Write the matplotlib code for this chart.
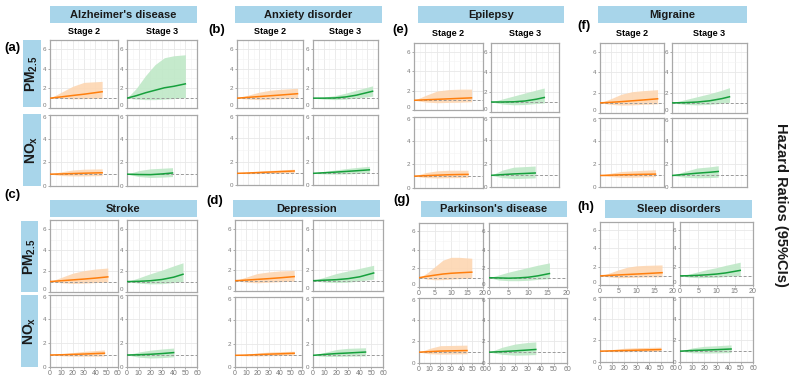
import matplotlib
matplotlib.use("Agg")
import matplotlib.pyplot as plt
from matplotlib.patches import Rectangle

plt.rcParams['font.family'] = ['Liberation Sans', 'DejaVu Sans']
plt.rcParams['mathtext.fontset'] = 'custom'
plt.rcParams['mathtext.bf'] = 'Liberation Sans:bold'
plt.rcParams['mathtext.rm'] = 'Liberation Sans'

W, H = 793, 378

# ---------------- data ----------------
diseases = ["Alzheimer's disease", "Anxiety disorder", "Stroke", "Depression",
            "Epilepsy", "Migraine", "Parkinson's disease", "Sleep disorders"]
panel_tags = ["(a)", "(b)", "(c)", "(d)", "(e)", "(f)", "(g)", "(h)"]
stage_labels = ["Stage 2", "Stage 3"]
pollutant_labels = [r"$\mathbf{PM_{2.5}}$", r"$\mathbf{NO_x}$"]
y_ticks = [0, 2, 4, 6]
x_ticks_long = [0, 10, 20, 30, 40, 50, 60]
x_ticks_short = [0, 5, 10, 15, 20]
right_label = "Hazard Ratios (95%CIs)"

# Alzheimer's disease
alz_pm_s2 = dict(x=[0, 10, 20, 30, 46], hr=[1, 1.13, 1.27, 1.4, 1.65], lo=[1, 0.97, 0.93, 0.95, 1.0], hi=[1, 1.6, 2.2, 2.6, 2.7])
alz_pm_s3 = dict(x=[0, 8, 16, 24, 32, 40, 50], hr=[1, 1.25, 1.55, 1.8, 2.05, 2.2, 2.45], lo=[1, 0.9, 0.85, 0.85, 0.9, 0.95, 1.05], hi=[1, 2.0, 3.3, 4.4, 5.1, 5.3, 5.4])
alz_no_s2 = dict(x=[0, 10, 20, 30, 46], hr=[1, 1.02, 1.05, 1.08, 1.12], lo=[1, 0.88, 0.85, 0.85, 0.88], hi=[1, 1.2, 1.35, 1.42, 1.45])
alz_no_s3 = dict(x=[0, 10, 20, 30, 39], hr=[1, 0.97, 0.96, 1.02, 1.1], lo=[1, 0.8, 0.72, 0.75, 0.8], hi=[1, 1.3, 1.45, 1.5, 1.55])
# Anxiety disorder
anx_pm_s2 = dict(x=[0, 10, 20, 30, 40, 55], hr=[1, 1.08, 1.16, 1.24, 1.32, 1.45], lo=[1, 0.9, 0.85, 0.88, 0.95, 1.0], hi=[1, 1.3, 1.6, 1.8, 1.9, 2.0])
anx_pm_s3 = dict(x=[0, 10, 20, 30, 40, 55], hr=[1, 1.0, 1.02, 1.12, 1.3, 1.7], lo=[1, 0.9, 0.85, 0.9, 1.0, 1.2], hi=[1, 1.1, 1.25, 1.5, 1.8, 2.25])
anx_no_s2 = dict(x=[0, 10, 20, 30, 40, 52], hr=[1, 1.03, 1.07, 1.11, 1.15, 1.2], lo=[1, 0.97, 0.98, 1.0, 1.02, 1.05], hi=[1, 1.1, 1.18, 1.25, 1.3, 1.35])
anx_no_s3 = dict(x=[0, 10, 20, 30, 40, 52], hr=[1, 1.05, 1.1, 1.16, 1.22, 1.3], lo=[1, 0.95, 0.93, 0.95, 0.98, 1.05], hi=[1, 1.15, 1.28, 1.4, 1.5, 1.6])
# Stroke
stk_pm_s2 = dict(x=[0, 10, 20, 30, 40, 51], hr=[1, 1.08, 1.16, 1.24, 1.33, 1.45], lo=[1, 0.88, 0.82, 0.85, 0.9, 0.95], hi=[1, 1.4, 1.8, 2.05, 2.2, 2.3])
stk_pm_s3 = dict(x=[0, 10, 20, 30, 40, 48], hr=[1, 1.02, 1.08, 1.2, 1.42, 1.7], lo=[1, 0.85, 0.78, 0.8, 0.9, 1.0], hi=[1, 1.35, 1.75, 2.1, 2.5, 2.8])
stk_no_s2 = dict(x=[0, 10, 20, 30, 40, 48], hr=[1, 1.02, 1.05, 1.08, 1.12, 1.15], lo=[1, 0.93, 0.9, 0.9, 0.9, 0.92], hi=[1, 1.1, 1.2, 1.3, 1.37, 1.42])
stk_no_s3 = dict(x=[0, 10, 20, 30, 40], hr=[1, 1.02, 1.06, 1.12, 1.2], lo=[1, 0.82, 0.75, 0.78, 0.85], hi=[1, 1.25, 1.4, 1.5, 1.58])
# Depression
dep_pm_s2 = dict(x=[0, 10, 20, 30, 40, 53], hr=[1, 1.06, 1.13, 1.2, 1.28, 1.4], lo=[1, 0.85, 0.8, 0.85, 0.9, 0.95], hi=[1, 1.35, 1.7, 1.85, 1.95, 2.0])
dep_pm_s3 = dict(x=[0, 10, 20, 30, 40, 52], hr=[1, 1.05, 1.1, 1.2, 1.38, 1.75], lo=[1, 0.85, 0.82, 0.85, 0.98, 1.15], hi=[1, 1.35, 1.7, 1.95, 2.2, 2.5])
dep_no_s2 = dict(x=[0, 10, 20, 30, 40, 53], hr=[1, 1.02, 1.06, 1.1, 1.13, 1.18], lo=[1, 0.95, 0.95, 0.97, 0.98, 1.0], hi=[1, 1.1, 1.2, 1.28, 1.32, 1.35])
dep_no_s3 = dict(x=[0, 10, 20, 30, 45], hr=[1, 1.08, 1.15, 1.2, 1.28], lo=[1, 0.9, 0.9, 0.92, 0.95], hi=[1, 1.25, 1.5, 1.6, 1.65])
# Epilepsy
epi_pm_s2 = dict(x=[0, 10, 20, 30, 40, 50], hr=[1, 1.05, 1.1, 1.15, 1.2, 1.25], lo=[1, 0.82, 0.75, 0.78, 0.8, 0.85], hi=[1, 1.5, 1.95, 2.1, 2.15, 2.15])
epi_pm_s3 = dict(x=[0, 10, 20, 30, 40, 47], hr=[1, 1.0, 1.02, 1.1, 1.28, 1.45], lo=[1, 0.8, 0.72, 0.75, 0.85, 0.9], hi=[1, 1.3, 1.6, 1.9, 2.2, 2.4])
epi_no_s2 = dict(x=[0, 10, 20, 30, 40, 47], hr=[1, 1.04, 1.08, 1.12, 1.14, 1.15], lo=[1, 0.88, 0.85, 0.87, 0.88, 0.9], hi=[1, 1.3, 1.45, 1.5, 1.5, 1.5])
epi_no_s3 = dict(x=[0, 10, 20, 30, 39], hr=[1, 1.06, 1.12, 1.16, 1.2], lo=[1, 0.8, 0.72, 0.75, 0.78], hi=[1, 1.45, 1.7, 1.75, 1.8])
# Migraine
mig_pm_s2 = dict(x=[0, 10, 20, 30, 40, 54], hr=[1, 1.05, 1.12, 1.2, 1.28, 1.4], lo=[1, 0.85, 0.78, 0.8, 0.85, 0.9], hi=[1, 1.4, 1.85, 2.1, 2.2, 2.3])
mig_pm_s3 = dict(x=[0, 10, 20, 30, 40, 46], hr=[1, 1.02, 1.08, 1.2, 1.42, 1.6], lo=[1, 0.85, 0.8, 0.85, 0.95, 1.05], hi=[1, 1.3, 1.6, 1.9, 2.25, 2.5])
mig_no_s2 = dict(x=[0, 10, 20, 30, 40, 52], hr=[1, 1.03, 1.06, 1.08, 1.1, 1.12], lo=[1, 0.9, 0.85, 0.85, 0.88, 0.9], hi=[1, 1.2, 1.35, 1.4, 1.45, 1.5])
mig_no_s3 = dict(x=[0, 10, 20, 30, 37], hr=[1, 1.1, 1.2, 1.28, 1.35], lo=[1, 0.85, 0.8, 0.82, 0.85], hi=[1, 1.35, 1.65, 1.75, 1.85])
# Parkinson's disease
par_pm_s2 = dict(x=[0, 2.5, 5, 7.5, 10, 12.5, 16.5], hr=[1, 1.15, 1.28, 1.4, 1.48, 1.53, 1.6], lo=[1, 0.85, 0.78, 0.8, 0.85, 0.9, 0.95], hi=[1, 1.5, 2.2, 2.9, 3.2, 3.2, 3.1])
par_pm_s3 = dict(x=[0, 2.5, 5, 7.5, 10, 12.5, 15.5], hr=[1, 0.98, 0.95, 0.98, 1.05, 1.2, 1.45], lo=[1, 0.75, 0.68, 0.68, 0.72, 0.82, 0.9], hi=[1, 1.3, 1.6, 1.85, 2.1, 2.35, 2.6])
par_no_s2 = dict(x=[0, 10, 20, 30, 45], hr=[1, 1.05, 1.1, 1.12, 1.15], lo=[1, 0.85, 0.82, 0.83, 0.85], hi=[1, 1.35, 1.6, 1.62, 1.65])
par_no_s3 = dict(x=[0, 10, 20, 30, 36], hr=[1, 1.05, 1.12, 1.2, 1.25], lo=[1, 0.8, 0.72, 0.75, 0.78], hi=[1, 1.45, 1.75, 1.9, 1.95])
# Sleep disorders
slp_pm_s2 = dict(x=[0, 2.5, 5, 7.5, 10, 12.5, 17], hr=[1, 1.05, 1.1, 1.15, 1.2, 1.25, 1.35], lo=[1, 0.88, 0.8, 0.82, 0.85, 0.88, 0.9], hi=[1, 1.3, 1.65, 1.95, 2.1, 2.15, 2.2])
slp_pm_s3 = dict(x=[0, 2.5, 5, 7.5, 10, 12.5, 16.5], hr=[1, 1.02, 1.06, 1.12, 1.2, 1.32, 1.6], lo=[1, 0.85, 0.8, 0.82, 0.85, 0.92, 1.02], hi=[1, 1.2, 1.45, 1.7, 1.9, 2.15, 2.5])
slp_no_s2 = dict(x=[0, 10, 20, 30, 40, 50], hr=[1, 1.03, 1.06, 1.09, 1.12, 1.15], lo=[1, 0.95, 0.95, 0.96, 0.97, 0.98], hi=[1, 1.15, 1.27, 1.32, 1.35, 1.37])
slp_no_s3 = dict(x=[0, 10, 20, 30, 42], hr=[1, 1.06, 1.1, 1.14, 1.2], lo=[1, 0.85, 0.82, 0.84, 0.87], hi=[1, 1.3, 1.45, 1.5, 1.58])

series = [
    [alz_pm_s2, alz_pm_s3, alz_no_s2, alz_no_s3],
    [anx_pm_s2, anx_pm_s3, anx_no_s2, anx_no_s3],
    [stk_pm_s2, stk_pm_s3, stk_no_s2, stk_no_s3],
    [dep_pm_s2, dep_pm_s3, dep_no_s2, dep_no_s3],
    [epi_pm_s2, epi_pm_s3, epi_no_s2, epi_no_s3],
    [mig_pm_s2, mig_pm_s3, mig_no_s2, mig_no_s3],
    [par_pm_s2, par_pm_s3, par_no_s2, par_no_s3],
    [slp_pm_s2, slp_pm_s3, slp_no_s2, slp_no_s3],
]

# ---------------- layout (pixels) ----------------
layout = [
    dict(box=(50, 6, 197, 23), tag=(4, 48), stage_y=32,
         axes=[(50, 40, 118, 108), (127, 40, 197, 108), (50, 115, 118, 186), (127, 115, 197, 186)],
         short=False, pm_lab=False, no_lab=False, strips=[(23, 40, 41, 107), (23, 114, 41, 186)]),
    dict(box=(235, 6, 382, 23), tag=(208, 30), stage_y=32,
         axes=[(237, 40, 303, 108), (313, 40, 378, 108), (237, 115, 303, 185), (313, 115, 378, 185)],
         short=False, pm_lab=False, no_lab=False, strips=None),
    dict(box=(50, 200, 197, 217), tag=(4, 195), stage_y=None,
         axes=[(50, 220, 118, 292), (127, 220, 197, 292), (50, 295, 118, 367), (127, 295, 197, 367)],
         short=False, pm_lab=False, no_lab=True, strips=[(21, 221, 38, 292), (21, 295, 38, 367)]),
    dict(box=(233, 200, 380, 217), tag=(206, 201), stage_y=None,
         axes=[(235, 220, 302, 291), (313, 220, 383, 291), (235, 297, 302, 367), (313, 297, 383, 367)],
         short=False, pm_lab=False, no_lab=True, strips=None),
    dict(box=(418, 6, 564, 23), tag=(392, 30), stage_y=34,
         axes=[(414, 43, 483, 110), (491, 43, 559, 112), (414, 117, 483, 188), (491, 117, 559, 187)],
         short=False, pm_lab=False, no_lab=False, strips=None),
    dict(box=(598, 6, 747, 23), tag=(577, 26), stage_y=34,
         axes=[(600, 43, 664, 113), (672, 43, 747, 113), (600, 118, 664, 187), (672, 118, 747, 187)],
         short=False, pm_lab=False, no_lab=False, strips=None),
    dict(box=(421, 201, 567, 217), tag=(393, 200), stage_y=None,
         axes=[(419, 223, 483, 287), (489, 223, 567, 287), (419, 298, 483, 363), (489, 298, 567, 363)],
         short=True, pm_lab=True, no_lab=True, strips=None),
    dict(box=(605, 200, 752, 218), tag=(577, 207), stage_y=None,
         axes=[(600, 222, 673, 285), (680, 222, 753, 285), (600, 297, 673, 362), (680, 297, 753, 362)],
         short=True, pm_lab=True, no_lab=True, strips=None),
]

ORANGE = '#ff7f0e'
ORANGE_FILL = '#fdd6b2'
GREEN = '#16a03c'
GREEN_FILL = '#bfe8c7'
STRIP = '#a8d5ea'

fig = plt.figure(figsize=(W / 100, H / 100), dpi=100)
fig.patch.set_facecolor('white')


def fx(x):
    return x / W


def fy(y):
    return 1 - y / H


def add_box(x0, y0, x1, y1, text, rot=0, size=8):
    fig.patches.append(Rectangle((fx(x0), fy(y1)), fx(x1) - fx(x0), fy(y0) - fy(y1),
                                 transform=fig.transFigure, facecolor=STRIP, edgecolor='none'))
    fig.text(fx((x0 + x1) / 2), fy((y0 + y1) / 2), text, ha='center', va='center',
             rotation=rot, fontsize=size, fontweight='bold', color='#1a1a1a')


for k, lay in enumerate(layout):
    add_box(*lay['box'], diseases[k])
    fig.text(fx(lay['tag'][0]), fy(lay['tag'][1]), panel_tags[k], fontsize=9.5,
             fontweight='bold', ha='left', va='center')
    if lay['stage_y'] is not None:
        for j in range(2):
            x0, _, x1, _ = lay['axes'][j]
            fig.text(fx((x0 + x1) / 2), fy(lay['stage_y']), stage_labels[j], fontsize=6.5,
                     fontweight='bold', ha='center', va='center')
    if lay['strips']:
        for j in range(2):
            x0, y0, x1, y1 = lay['strips'][j]
            fig.patches.append(Rectangle((fx(x0), fy(y1)), fx(x1) - fx(x0), fy(y0) - fy(y1),
                                         transform=fig.transFigure, facecolor=STRIP, edgecolor='none'))
            fig.text(fx((x0 + x1) / 2), fy((y0 + y1) / 2), pollutant_labels[j], rotation=90,
                     ha='center', va='center', fontsize=10, color='#1a1a1a')
    for i in range(4):
        x0, y0, x1, y1 = lay['axes'][i]
        ax = fig.add_axes([fx(x0), fy(y1), fx(x1) - fx(x0), fy(y0) - fy(y1)])
        d = series[k][i]
        is_pm = i < 2
        stage3 = i % 2 == 1
        col = GREEN if stage3 else ORANGE
        fcol = GREEN_FILL if stage3 else ORANGE_FILL
        if is_pm and lay['short']:
            xmax, xt = 20, x_ticks_short
        else:
            xmax, xt = 60, x_ticks_long
        ax.set_xlim(0, xmax)
        ax.set_ylim(0, 6.9 if is_pm else 6.0)
        ax.set_xticks(xt)
        ax.set_yticks(y_ticks)
        ax.set_xticks([(a + b) / 2 for a, b in zip(xt[:-1], xt[1:])], minor=True)
        ax.set_yticks([1, 3, 5], minor=True)
        ax.grid(True, which='major', color='#e8e8e8', lw=0.6)
        ax.grid(True, which='minor', color='#f3f3f3', lw=0.4)
        ax.set_axisbelow(True)
        ax.fill_between(d['x'], d['lo'], d['hi'], color=fcol, lw=0, alpha=0.9, zorder=2)
        ax.axhline(1, color='#9a9a9a', lw=0.7, ls=(0, (3, 2)), zorder=3)
        ax.plot(d['x'], d['hr'], color=col, lw=1.1, zorder=4)
        for s in ax.spines.values():
            s.set_color('#a8a8a8')
            s.set_linewidth(0.9)
        ax.tick_params(which='major', length=1.5, width=0.5, color='#8a8a8a', pad=1,
                       labelsize=4.5, labelcolor='#7a7a7a')
        ax.tick_params(which='minor', length=0)
        # keep the stacked "0" / "6" labels of adjacent rows apart
        ylabs = ax.get_yticklabels()
        if is_pm:
            ylabs[0].set_va('bottom')
        else:
            ylabs[-1].set_va('top')
        show_x = (is_pm and lay['pm_lab']) or ((not is_pm) and lay['no_lab'])
        if not show_x:
            ax.tick_params(axis='x', labelbottom=False, length=0)
        else:
            ax.tick_params(axis='x', labelsize=5)
            if is_pm:
                ax.tick_params(axis='x', pad=0.5)

fig.text(fx(781), fy(205), right_label, rotation=-90, ha='center', va='center',
         fontsize=10.5, fontweight='bold', color='#1a1a1a')

fig.savefig('out.png', dpi=100, facecolor='white')
